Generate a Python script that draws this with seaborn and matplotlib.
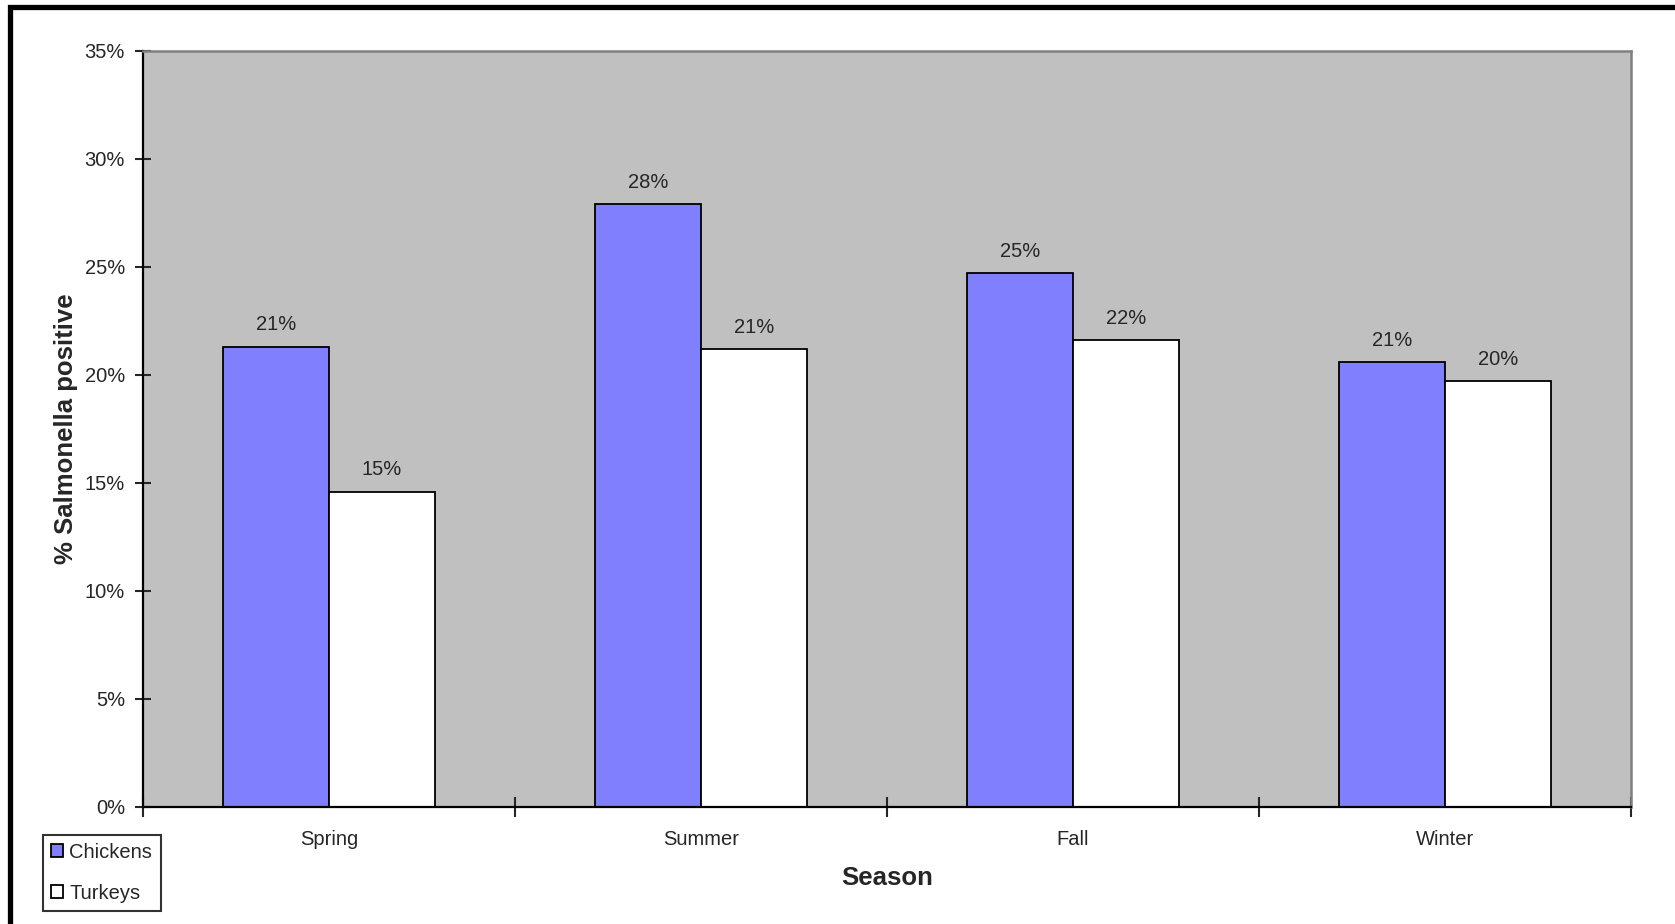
import matplotlib
matplotlib.use("Agg")
import matplotlib.pyplot as plt
import seaborn as sns
import pandas as pd
from matplotlib.patches import Patch, Rectangle
from matplotlib.ticker import PercentFormatter, FixedLocator

# data (fraction positive)
seasons = ["Spring", "Summer", "Fall", "Winter"]
species = ["Chickens", "Turkeys"]
chickens = [0.213, 0.279, 0.247, 0.206]
turkeys = [0.146, 0.212, 0.216, 0.197]
colors = ["#8080FF", "#FFFFFF"]

df = pd.DataFrame({
    "season": seasons * 2,
    "species": [species[0]] * 4 + [species[1]] * 4,
    "value": chickens + turkeys,
})

sns.set_style("white")
plt.rcParams["font.family"] = ["Liberation Sans", "DejaVu Sans"]

fig = plt.figure(figsize=(16.75, 9.24), dpi=100)
ax = fig.add_axes([143 / 1675, 1 - 807 / 924, 1488 / 1675, 756 / 924])
ax.set_facecolor("#C0C0C0")

sns.barplot(data=df, x="season", y="value", hue="species", order=seasons,
            hue_order=species, palette=colors, saturation=1, width=0.57, gap=0,
            edgecolor="black", linewidth=1.3, legend=False, ax=ax)

# value labels
for cont in ax.containers:
    ax.bar_label(cont, labels=[f"{v:.0%}" for v in cont.datavalues],
                 padding=9, fontsize=14.5)

ax.set_ylim(0, 0.35)
ax.set_xlim(-0.5, 3.5)
ax.yaxis.set_major_locator(FixedLocator([i * 0.05 for i in range(8)]))
ax.yaxis.set_major_formatter(PercentFormatter(1.0, decimals=0))
ax.tick_params(axis="y", which="major", direction="inout", length=12, width=1.5,
               labelsize=14.5, pad=7, left=True)
ax.tick_params(axis="x", which="major", length=0, labelsize=14.5, pad=16.5)
ax.xaxis.set_minor_locator(FixedLocator([-0.5, 0.5, 1.5, 2.5, 3.5]))
ax.tick_params(axis="x", which="minor", direction="inout", length=14, width=1.5,
               bottom=True)

for side in ["left", "bottom"]:
    ax.spines[side].set_color("black")
    ax.spines[side].set_linewidth(1.6)
for side in ["top", "right"]:
    ax.spines[side].set_visible(True)
    ax.spines[side].set_color("#808080")
    ax.spines[side].set_linewidth(1.8)

ax.set_ylabel("% Salmonella positive", fontsize=18.5, fontweight="bold")
ax.set_xlabel("Season", fontsize=18.5, fontweight="bold")
ax.yaxis.set_label_coords(-0.044, 0.5)
ax.xaxis.set_label_coords(0.5, -0.0786)

handles = [Patch(facecolor=c, edgecolor="black", linewidth=1.3) for c in colors]
leg = fig.legend(handles, species, loc="lower left",
                 bbox_to_anchor=(42.7 / 1675, 1 - 911 / 924), fontsize=14.5,
                 frameon=True, fancybox=False, shadow=False, borderpad=0.42,
                 handlelength=0.6, handleheight=0.6, handletextpad=0.3,
                 labelspacing=1.07, borderaxespad=0)
leg.get_frame().set_edgecolor("black")
leg.get_frame().set_linewidth(1.5)

# outer chart frame (right and bottom edges are cut off in the original)
fig.add_artist(Rectangle((9.5 / 1675, -0.2), 1.5, 1.2 - 6.5 / 924,
                         transform=fig.transFigure, fill=False,
                         edgecolor="black", linewidth=3.8))

fig.savefig("out.png", dpi=100)
